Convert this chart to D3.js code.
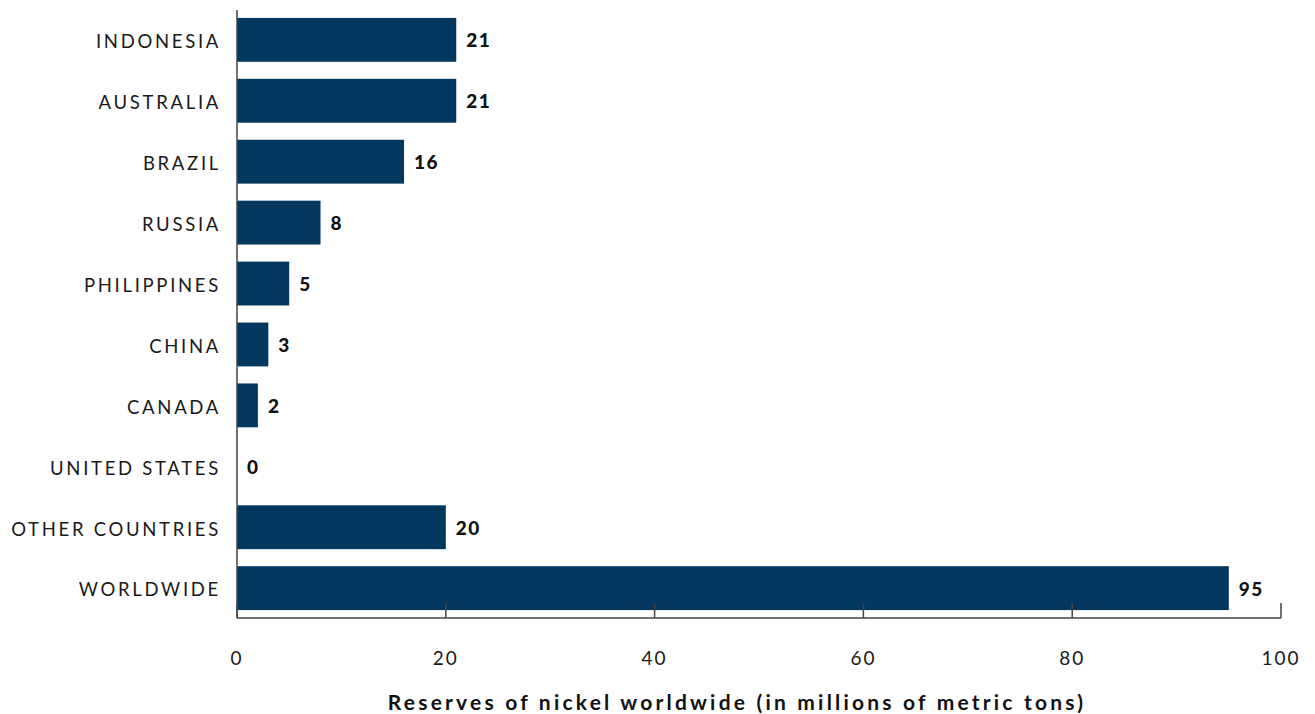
<!DOCTYPE html>
<html><head><meta charset="utf-8">
<script src="https://cdn.jsdelivr.net/npm/d3@7"></script>
<style>body{margin:0;background:#fff}svg{display:block}</style>
</head><body>
<svg id="chart" width="1315" height="714"></svg>
<script>
const categories = ["INDONESIA","AUSTRALIA","BRAZIL","RUSSIA","PHILIPPINES","CHINA","CANADA","UNITED STATES","OTHER COUNTRIES","WORLDWIDE"];
const values = [21,21,16,8,5,3,2,0,20,95];
const xTicks = [0,20,40,60,80,100];
const axisTitle = "Reserves of nickel worldwide (in millions of metric tons)";

(function(){
const svg = d3.select("#chart");
const mLeft = 237, mRight = 1281, mTop = 10, mBottom = 618;
const x = d3.scaleLinear().domain([0,100]).range([mLeft,mRight]);
const y = d3.scaleBand().domain(categories).range([mTop,mBottom]).paddingInner(0.28).paddingOuter(0.13);
const font = "Lato, 'Open Sans', sans-serif";
const barColor = "#02375f";

svg.selectAll("rect.bar").data(categories).join("rect")
  .attr("class","bar")
  .attr("x", x(0)).attr("y", d => y(d))
  .attr("width", (d,i) => x(values[i]) - x(0))
  .attr("height", y.bandwidth())
  .attr("fill", barColor);

svg.selectAll("text.val").data(categories).join("text")
  .attr("class","val")
  .attr("x", (d,i) => x(values[i]) + 10)
  .attr("y", d => y(d) + y.bandwidth()/2)
  .attr("dy","0.4em")
  .attr("font-family", font).attr("font-weight", 900).attr("font-size", 19)
  .attr("letter-spacing", 1.5)
  .attr("fill","#111")
  .text((d,i) => values[i]);

svg.selectAll("text.cat").data(categories).join("text")
  .attr("class","cat")
  .attr("x", 221)
  .attr("y", d => y(d) + y.bandwidth()/2)
  .attr("dy","0.45em")
  .attr("text-anchor","end")
  .attr("font-family", font).attr("font-size", 18.5)
  .attr("letter-spacing", 2.7)
  .attr("fill","#1a1a1a")
  .text(d => d);

const axisColor = "#444";
svg.append("line").attr("x1",mLeft).attr("x2",mLeft).attr("y1",mTop).attr("y2",mBottom)
  .attr("stroke",axisColor).attr("stroke-width",1.5);
svg.append("line").attr("x1",mLeft).attr("x2",mRight).attr("y1",mBottom).attr("y2",mBottom)
  .attr("stroke",axisColor).attr("stroke-width",1.5);
svg.selectAll("line.tick").data(xTicks).join("line")
  .attr("class","tick")
  .attr("x1", d => x(d)).attr("x2", d => x(d))
  .attr("y1", mBottom).attr("y2", mBottom - 15)
  .attr("stroke",axisColor).attr("stroke-width",1.5);
svg.selectAll("text.tick").data(xTicks).join("text")
  .attr("class","tick")
  .attr("x", d => x(d)).attr("y", 665)
  .attr("text-anchor","middle")
  .attr("font-family", font).attr("font-size", 19)
  .attr("letter-spacing", 2)
  .attr("fill","#1a1a1a")
  .text(d => d);

svg.append("text")
  .attr("x", 737).attr("y", 710)
  .attr("text-anchor","middle")
  .attr("font-family", font).attr("font-weight", 700).attr("font-size", 21)
  .attr("letter-spacing", 3.2)
  .attr("fill","#111")
  .text(axisTitle);
})();
</script>
</body></html>
